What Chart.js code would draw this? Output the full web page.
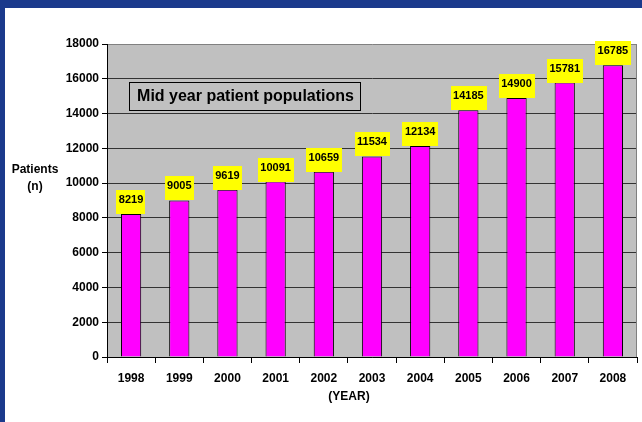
<!DOCTYPE html>
<html>
<head>
<meta charset="utf-8">
<script src="https://cdn.jsdelivr.net/npm/chart.js@4/dist/chart.umd.min.js"></script>
<style>
html,body{margin:0;padding:0;background:#fff;}
canvas{display:block;}
</style>
</head>
<body>
<canvas id="c" width="642" height="422"></canvas>
<script>
const years = ['1998','1999','2000','2001','2002','2003','2004','2005','2006','2007','2008'];
const patients = [8219, 9005, 9619, 10091, 10659, 11534, 12134, 14185, 14900, 15781, 16785];
const yTicks = [0, 2000, 4000, 6000, 8000, 10000, 12000, 14000, 16000, 18000];
const chartTitle = 'Mid year patient populations';
const yTitle = ['Patients', '(n)'];
const xTitle = '(YEAR)';

const FONT = '"Liberation Sans", Arial, sans-serif';

const framePlugin = {
  id: 'frame',
  beforeDraw(chart) {
    const ctx = chart.ctx;
    ctx.save();
    ctx.fillStyle = '#ffffff';
    ctx.fillRect(0, 0, chart.width, chart.height);
    ctx.fillStyle = '#1b3a8c';
    ctx.fillRect(0, 0, chart.width, 8);
    ctx.fillRect(0, 0, 5, chart.height);
    const a = chart.chartArea;
    ctx.fillStyle = '#c0c0c0';
    ctx.fillRect(a.left, a.top, a.right - a.left, a.bottom - a.top);
    ctx.restore();
  },
  afterDraw(chart) {
    const ctx = chart.ctx;
    const a = chart.chartArea;
    ctx.save();
    ctx.strokeStyle = '#808080';
    ctx.lineWidth = 1;
    ctx.beginPath();
    ctx.moveTo(a.right - 0.5, a.top);
    ctx.lineTo(a.right - 0.5, a.bottom);
    ctx.stroke();
    ctx.font = 'bold 16px ' + FONT;
    const bx = 129, by = 82, bw = 231, bh = 28;
    ctx.fillStyle = '#c0c0c0';
    ctx.fillRect(bx, by, bw, bh);
    ctx.strokeStyle = '#000';
    ctx.strokeRect(bx + 0.5, by + 0.5, bw, bh);
    ctx.fillStyle = '#000';
    ctx.textAlign = 'center';
    ctx.textBaseline = 'middle';
    ctx.fillText(chartTitle, bx + bw / 2 + 1, by + bh / 2 + 1);
    ctx.font = 'bold 12px ' + FONT;
    ctx.fillText(yTitle[0], 35, 170);
    ctx.fillText(yTitle[1], 35, 187);
    ctx.fillText(xTitle, (a.left + a.right) / 2 - 23, 397);
    ctx.restore();
  }
};

const labelPlugin = {
  id: 'valueLabels',
  afterDatasetsDraw(chart) {
    const ctx = chart.ctx;
    const meta = chart.getDatasetMeta(0);
    ctx.save();
    ctx.font = 'bold 11px ' + FONT;
    ctx.textAlign = 'center';
    ctx.textBaseline = 'middle';
    meta.data.forEach((bar, i) => {
      const txt = String(patients[i]);
      const w = ctx.measureText(txt).width + 5;
      const h = 24;
      const x = bar.x;
      const top = bar.y - h;
      ctx.fillStyle = '#ffff00';
      ctx.fillRect(Math.round(x - w / 2), Math.round(top), Math.round(w), h);
      ctx.fillStyle = '#000';
      ctx.fillText(txt, x, top + h / 2 - 2);
    });
    ctx.restore();
  }
};

new Chart(document.getElementById('c'), {
  type: 'bar',
  data: {
    labels: years,
    datasets: [{
      data: patients,
      backgroundColor: '#ff00ff',
      borderColor: '#000000',
      borderWidth: 1,
      borderSkipped: 'bottom',
      barPercentage: 0.42,
      categoryPercentage: 1
    }]
  },
  options: {
    responsive: false,
    animation: false,
    layout: { padding: { top: 44, right: 5, left: 0, bottom: 0 } },
    plugins: { legend: { display: false }, tooltip: { enabled: false }, title: { display: false } },
    scales: {
      x: {
        offset: true,
        grid: { offset: true, drawOnChartArea: false, drawTicks: true, tickLength: 6, tickColor: '#000', color: '#000' },
        border: { color: '#000', width: 1 },
        ticks: { color: '#000', font: { family: FONT, size: 12, weight: 'bold' }, padding: 8, maxRotation: 0 },
        afterFit(s) { s.height = 65; }
      },
      y: {
        min: 0, max: 18000,
        afterBuildTicks(s) { s.ticks = yTicks.map(v => ({ value: v })); },
        grid: {
          color: (c) => (c.tick && c.tick.value === 18000) ? '#808080' : '#333333',
          lineWidth: 1,
          tickLength: 5,
          tickColor: '#000'
        },
        border: { color: '#000', width: 1 },
        ticks: { color: '#000', font: { family: FONT, size: 12, weight: 'bold' }, padding: 3, callback: (v) => String(v) },
        afterFit(s) { s.width = 107; }
      }
    }
  },
  plugins: [framePlugin, labelPlugin]
});
</script>
</body>
</html>
